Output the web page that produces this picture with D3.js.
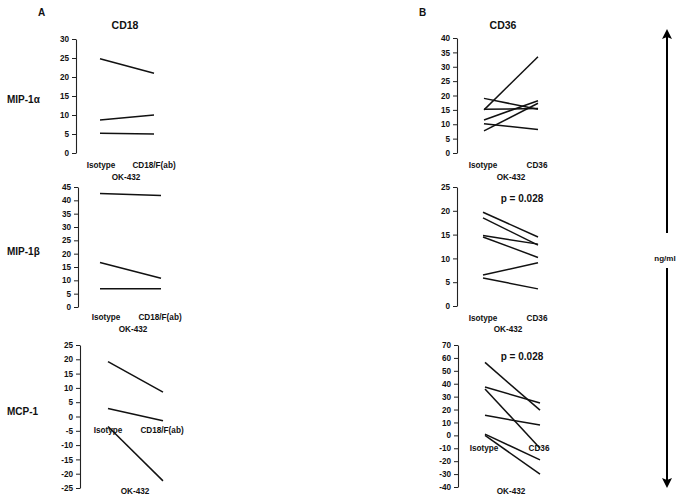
<!DOCTYPE html>
<html><head><meta charset="utf-8">
<script src="https://cdn.jsdelivr.net/npm/d3@7"></script>
<style>
body{margin:0;background:#fff;}
svg{display:block;font-family:"Liberation Sans",Arial,sans-serif;font-weight:bold;}
</style></head>
<body>
<svg id="chart" width="685" height="502"></svg>
<script>
// ---- data ----
const cd18Categories = ["Isotype", "CD18/F(ab)"];
const cd36Categories = ["Isotype", "CD36"];
const groupLabel = "OK-432";
const rowLabels = ["MIP-1\u03b1", "MIP-1\u03b2", "MCP-1"];

const mip1aCD18 = [[24.8, 21.0], [8.7, 10.0], [5.2, 5.0]];
const mip1bCD18 = [[42.6, 41.8], [16.7, 10.8], [6.8, 6.8]];
const mcp1CD18  = [[19.2, 8.5], [2.8, -1.5], [-3.5, -22.5]];

const mip1aCD36 = [[15.0, 33.5], [19.0, 15.2], [15.2, 15.5], [11.5, 18.2], [10.2, 8.2], [7.7, 17.3]];
const mip1bCD36 = [[19.7, 14.5], [18.5, 12.8], [14.8, 13.0], [14.5, 10.2], [6.5, 9.1], [5.9, 3.6]];
const mcp1CD36  = [[56.5, 19.5], [37.5, 25.0], [36.0, -10.0], [15.5, 8.0], [1.0, -19.0], [0.0, -30.0]];

const ticksMip1aCD18 = [0, 5, 10, 15, 20, 25, 30];
const ticksMip1bCD18 = [0, 5, 10, 15, 20, 25, 30, 35, 40, 45];
const ticksMcp1CD18  = [-25, -20, -15, -10, -5, 0, 5, 10, 15, 20, 25];
const ticksMip1aCD36 = [0, 5, 10, 15, 20, 25, 30, 35, 40];
const ticksMip1bCD36 = [0, 5, 10, 15, 20, 25];
const ticksMcp1CD36  = [-40, -30, -20, -10, 0, 10, 20, 30, 40, 50, 60, 70];

const pValues = [null, "p = 0.028", "p = 0.028"];

// ---- layout ----
const svg = d3.select("#chart");

const panels = [
  {data: mip1aCD18, ticks: ticksMip1aCD18, cats: cd18Categories, ax: 76, yTop: 39, yBot: 153, x0: 100, x1: 154,
   catY: 165, catX: [101, 154], grpX: 126, grpY: 177, p: null},
  {data: mip1bCD18, ticks: ticksMip1bCD18, cats: cd18Categories, ax: 78, yTop: 187, yBot: 307, x0: 100, x1: 161,
   catY: 317, catX: [106, 160], grpX: 133, grpY: 329, p: null},
  {data: mcp1CD18, ticks: ticksMcp1CD18, cats: cd18Categories, ax: 80, yTop: 345, yBot: 488, x0: 108, x1: 163,
   catY: 430, catX: [108, 162], grpX: 135, grpY: 491, p: null},
  {data: mip1aCD36, ticks: ticksMip1aCD36, cats: cd36Categories, ax: 457, yTop: 38, yBot: 153, x0: 484, x1: 538,
   catY: 165, catX: [483, 537], grpX: 511, grpY: 177, p: pValues[0]},
  {data: mip1bCD36, ticks: ticksMip1bCD36, cats: cd36Categories, ax: 457, yTop: 187, yBot: 306, x0: 483, x1: 538,
   catY: 318, catX: [483, 537], grpX: 508, grpY: 329, p: pValues[1], pY: 198},
  {data: mcp1CD36, ticks: ticksMcp1CD36, cats: cd36Categories, ax: 458, yTop: 345, yBot: 487, x0: 485, x1: 540,
   catY: 448, catX: [484, 539], grpX: 511, grpY: 491, p: pValues[2], pY: 356}
];

panels.forEach(p => {
  const g = svg.append("g");
  const y = d3.scaleLinear().domain(d3.extent(p.ticks)).range([p.yBot, p.yTop]);
  const x = d3.scalePoint().domain(p.cats).range([p.x0, p.x1]);

  const axis = g.append("g").attr("transform", `translate(${p.ax},0)`)
    .call(d3.axisLeft(y).tickValues(p.ticks).tickFormat(d => String(d))
      .tickSize(4).tickPadding(3).tickSizeOuter(0));
  axis.select(".domain").attr("stroke", "#222").attr("stroke-width", 1.1);
  axis.selectAll(".tick line").attr("stroke", "#222");
  axis.selectAll("text").attr("font-size", 8.2).attr("font-weight", "bold")
    .attr("font-family", "Liberation Sans, Arial, sans-serif").attr("fill", "#111");

  const line = d3.line().x((d, i) => x(p.cats[i])).y(d => y(d));
  g.selectAll("path.series").data(p.data).enter().append("path")
    .attr("class", "series")
    .attr("d", d => line(d))
    .attr("fill", "none").attr("stroke", "#111").attr("stroke-width", 1.5);

  p.cats.forEach((c, i) => {
    g.append("text").attr("x", p.catX[i]).attr("y", p.catY).attr("dy", "0.35em")
      .attr("text-anchor", "middle").attr("font-size", 8.2).attr("fill", "#111").text(c);
  });
  g.append("text").attr("x", p.grpX).attr("y", p.grpY).attr("dy", "0.35em")
    .attr("text-anchor", "middle").attr("font-size", 8.2).attr("fill", "#111").text(groupLabel);
  if (p.p) {
    g.append("text").attr("x", 522).attr("y", p.pY).attr("dy", "0.35em")
      .attr("text-anchor", "middle").attr("font-size", 10).attr("fill", "#111").text(p.p);
  }
});

// row labels
const rowY = [99, 251, 411];
rowLabels.forEach((t, i) => {
  svg.append("text").attr("x", 7).attr("y", rowY[i]).attr("dy", "0.35em")
    .attr("font-size", 10).attr("fill", "#111").text(t);
});

// titles
svg.append("text").attr("x", 38).attr("y", 12).attr("dy", "0.35em").attr("font-size", 10).attr("fill", "#111").text("A");
svg.append("text").attr("x", 419).attr("y", 12).attr("dy", "0.35em").attr("font-size", 10).attr("fill", "#111").text("B");
svg.append("text").attr("x", 125).attr("y", 25).attr("dy", "0.35em").attr("text-anchor", "middle").attr("font-size", 10.5).attr("fill", "#111").text("CD18");
svg.append("text").attr("x", 503).attr("y", 25).attr("dy", "0.35em").attr("text-anchor", "middle").attr("font-size", 10.5).attr("fill", "#111").text("CD36");

// double arrow with ng/ml
const ax = 667;
svg.append("line").attr("x1", ax).attr("x2", ax).attr("y1", 36).attr("y2", 233).attr("stroke", "#000").attr("stroke-width", 2);
svg.append("line").attr("x1", ax).attr("x2", ax).attr("y1", 268).attr("y2", 481).attr("stroke", "#000").attr("stroke-width", 2);
svg.append("path").attr("d", `M${ax},29 L${ax-5},39 L${ax},37 L${ax+5},39 Z`).attr("fill", "#000");
svg.append("path").attr("d", `M${ax},488 L${ax-5},478 L${ax},480 L${ax+5},478 Z`).attr("fill", "#000");
svg.append("text").attr("x", ax - 2).attr("y", 258).attr("dy", "0.35em").attr("text-anchor", "middle")
  .attr("font-size", 8).attr("fill", "#111").text("ng/ml");
</script>
</body></html>
